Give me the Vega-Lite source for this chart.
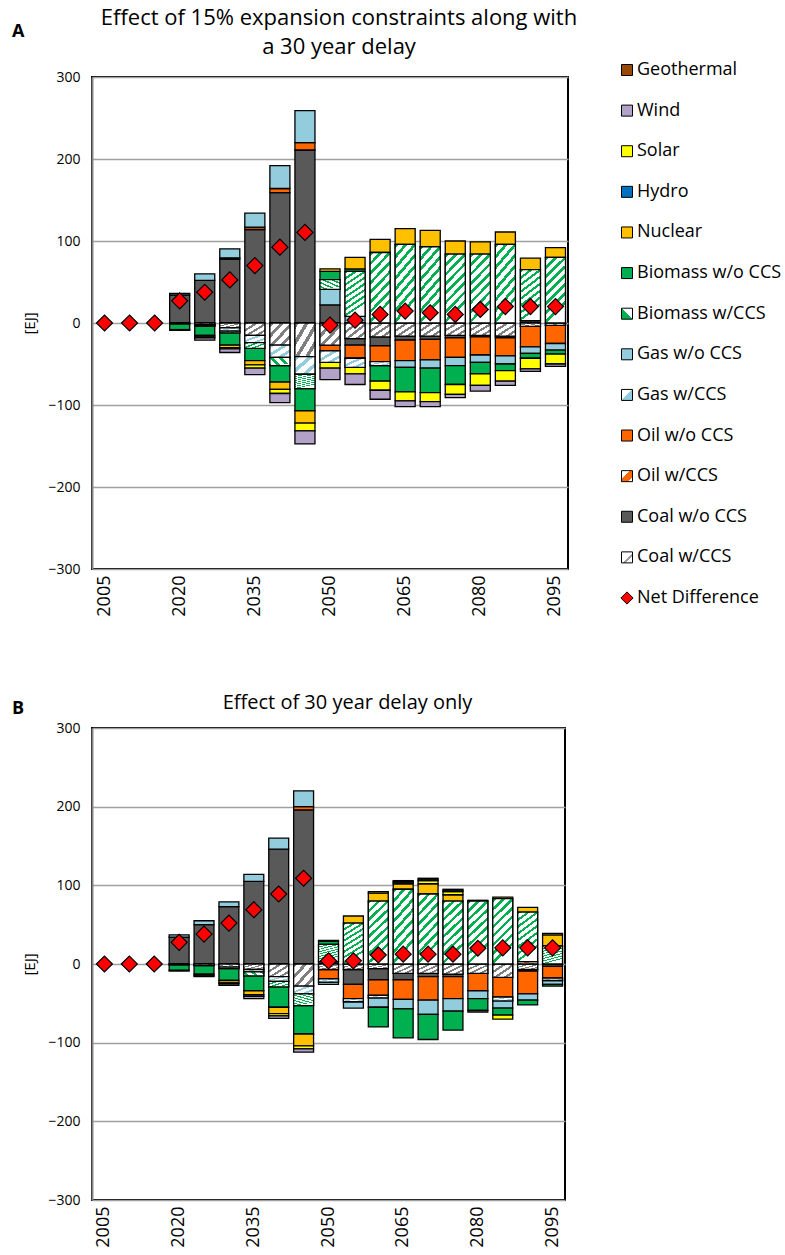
{
  "$schema": "https://vega.github.io/schema/vega-lite/v6.json",
  "padding": {"left": 11, "top": 6, "right": 0, "bottom": 0},
  "autosize": {"type": "pad"},
  "spacing": 74,
  "datasets": {
    "sources": [
      {"source": "Coal w/CCS", "rank": 1},
      {"source": "Coal w/o CCS", "rank": 2},
      {"source": "Oil w/CCS", "rank": 3},
      {"source": "Oil w/o CCS", "rank": 4},
      {"source": "Gas w/CCS", "rank": 5},
      {"source": "Gas w/o CCS", "rank": 6},
      {"source": "Biomass w/CCS", "rank": 7},
      {"source": "Biomass w/o CCS", "rank": 8},
      {"source": "Nuclear", "rank": 9},
      {"source": "Hydro", "rank": 10},
      {"source": "Solar", "rank": 11},
      {"source": "Wind", "rank": 12},
      {"source": "Geothermal", "rank": 13},
      {"source": "Net Difference", "rank": 0}
    ],
    "netA": [
      {"year": 2005, "value": 0}, {"year": 2010, "value": 0}, {"year": 2015, "value": 0},
      {"year": 2020, "value": 27}, {"year": 2025, "value": 37.5}, {"year": 2030, "value": 52.5},
      {"year": 2035, "value": 70}, {"year": 2040, "value": 92.5}, {"year": 2045, "value": 110.5},
      {"year": 2050, "value": -2.5}, {"year": 2055, "value": 3.5}, {"year": 2060, "value": 10.5},
      {"year": 2065, "value": 14.5}, {"year": 2070, "value": 12.5}, {"year": 2075, "value": 10.5},
      {"year": 2080, "value": 16.5}, {"year": 2085, "value": 20}, {"year": 2090, "value": 20},
      {"year": 2095, "value": 20}
    ],
    "netB": [
      {"year": 2005, "value": 0}, {"year": 2010, "value": 0}, {"year": 2015, "value": 0},
      {"year": 2020, "value": 27.5}, {"year": 2025, "value": 38}, {"year": 2030, "value": 52},
      {"year": 2035, "value": 69}, {"year": 2040, "value": 89}, {"year": 2045, "value": 109},
      {"year": 2050, "value": 4}, {"year": 2055, "value": 4}, {"year": 2060, "value": 11.5},
      {"year": 2065, "value": 12.5}, {"year": 2070, "value": 12.5}, {"year": 2075, "value": 12.5},
      {"year": 2080, "value": 20}, {"year": 2085, "value": 20.5}, {"year": 2090, "value": 20.5},
      {"year": 2095, "value": 20.5}
    ],
    "A": [
      {"year": 2020, "source": "Coal w/o CCS", "value": 34}, {"year": 2020, "source": "Gas w/o CCS", "value": 2},
      {"year": 2020, "source": "Coal w/CCS", "value": -1}, {"year": 2020, "source": "Biomass w/o CCS", "value": -7}, {"year": 2020, "source": "Nuclear", "value": -1},
      {"year": 2025, "source": "Coal w/o CCS", "value": 52}, {"year": 2025, "source": "Gas w/o CCS", "value": 8},
      {"year": 2025, "source": "Coal w/CCS", "value": -2}, {"year": 2025, "source": "Gas w/CCS", "value": -1}, {"year": 2025, "source": "Biomass w/CCS", "value": -1},
      {"year": 2025, "source": "Biomass w/o CCS", "value": -11}, {"year": 2025, "source": "Nuclear", "value": -2}, {"year": 2025, "source": "Solar", "value": -1}, {"year": 2025, "source": "Wind", "value": -3},
      {"year": 2030, "source": "Coal w/o CCS", "value": 78}, {"year": 2030, "source": "Oil w/o CCS", "value": 1.5}, {"year": 2030, "source": "Gas w/o CCS", "value": 11},
      {"year": 2030, "source": "Coal w/CCS", "value": -6}, {"year": 2030, "source": "Gas w/CCS", "value": -4}, {"year": 2030, "source": "Biomass w/CCS", "value": -2},
      {"year": 2030, "source": "Biomass w/o CCS", "value": -15}, {"year": 2030, "source": "Nuclear", "value": -3}, {"year": 2030, "source": "Solar", "value": -1.5}, {"year": 2030, "source": "Wind", "value": -4.5},
      {"year": 2035, "source": "Coal w/o CCS", "value": 114}, {"year": 2035, "source": "Oil w/o CCS", "value": 3}, {"year": 2035, "source": "Gas w/o CCS", "value": 17},
      {"year": 2035, "source": "Coal w/CCS", "value": -15}, {"year": 2035, "source": "Gas w/CCS", "value": -9}, {"year": 2035, "source": "Biomass w/CCS", "value": -7},
      {"year": 2035, "source": "Biomass w/o CCS", "value": -15}, {"year": 2035, "source": "Nuclear", "value": -5}, {"year": 2035, "source": "Solar", "value": -4}, {"year": 2035, "source": "Wind", "value": -8},
      {"year": 2040, "source": "Coal w/o CCS", "value": 159}, {"year": 2040, "source": "Oil w/o CCS", "value": 5}, {"year": 2040, "source": "Gas w/o CCS", "value": 28},
      {"year": 2040, "source": "Coal w/CCS", "value": -27}, {"year": 2040, "source": "Gas w/CCS", "value": -15}, {"year": 2040, "source": "Biomass w/CCS", "value": -10},
      {"year": 2040, "source": "Biomass w/o CCS", "value": -20}, {"year": 2040, "source": "Nuclear", "value": -9}, {"year": 2040, "source": "Solar", "value": -5}, {"year": 2040, "source": "Wind", "value": -11},
      {"year": 2045, "source": "Coal w/o CCS", "value": 211}, {"year": 2045, "source": "Oil w/o CCS", "value": 9}, {"year": 2045, "source": "Gas w/o CCS", "value": 39},
      {"year": 2045, "source": "Coal w/CCS", "value": -41}, {"year": 2045, "source": "Gas w/CCS", "value": -21.5}, {"year": 2045, "source": "Biomass w/CCS", "value": -17.5},
      {"year": 2045, "source": "Biomass w/o CCS", "value": -27}, {"year": 2045, "source": "Nuclear", "value": -15}, {"year": 2045, "source": "Solar", "value": -9.5}, {"year": 2045, "source": "Wind", "value": -16},
      {"year": 2050, "source": "Coal w/o CCS", "value": 22}, {"year": 2050, "source": "Gas w/o CCS", "value": 19}, {"year": 2050, "source": "Biomass w/CCS", "value": 12},
      {"year": 2050, "source": "Biomass w/o CCS", "value": 10}, {"year": 2050, "source": "Nuclear", "value": 3},
      {"year": 2050, "source": "Coal w/CCS", "value": -27}, {"year": 2050, "source": "Oil w/o CCS", "value": -7}, {"year": 2050, "source": "Gas w/CCS", "value": -14},
      {"year": 2050, "source": "Solar", "value": -7}, {"year": 2050, "source": "Wind", "value": -14},
      {"year": 2055, "source": "Gas w/o CCS", "value": 8}, {"year": 2055, "source": "Biomass w/CCS", "value": 55}, {"year": 2055, "source": "Biomass w/o CCS", "value": 3}, {"year": 2055, "source": "Nuclear", "value": 14},
      {"year": 2055, "source": "Coal w/CCS", "value": -19}, {"year": 2055, "source": "Coal w/o CCS", "value": -8}, {"year": 2055, "source": "Oil w/o CCS", "value": -16},
      {"year": 2055, "source": "Gas w/CCS", "value": -11}, {"year": 2055, "source": "Solar", "value": -8}, {"year": 2055, "source": "Wind", "value": -13},
      {"year": 2060, "source": "Biomass w/CCS", "value": 86}, {"year": 2060, "source": "Nuclear", "value": 16},
      {"year": 2060, "source": "Coal w/CCS", "value": -17}, {"year": 2060, "source": "Coal w/o CCS", "value": -11}, {"year": 2060, "source": "Oil w/o CCS", "value": -19},
      {"year": 2060, "source": "Gas w/CCS", "value": -5}, {"year": 2060, "source": "Biomass w/o CCS", "value": -19}, {"year": 2060, "source": "Solar", "value": -11}, {"year": 2060, "source": "Wind", "value": -11},
      {"year": 2065, "source": "Biomass w/CCS", "value": 96}, {"year": 2065, "source": "Nuclear", "value": 19},
      {"year": 2065, "source": "Coal w/CCS", "value": -16}, {"year": 2065, "source": "Coal w/o CCS", "value": -5}, {"year": 2065, "source": "Oil w/o CCS", "value": -25},
      {"year": 2065, "source": "Gas w/o CCS", "value": -8}, {"year": 2065, "source": "Biomass w/o CCS", "value": -30}, {"year": 2065, "source": "Solar", "value": -11}, {"year": 2065, "source": "Wind", "value": -7},
      {"year": 2070, "source": "Biomass w/CCS", "value": 93}, {"year": 2070, "source": "Nuclear", "value": 20},
      {"year": 2070, "source": "Coal w/CCS", "value": -16}, {"year": 2070, "source": "Coal w/o CCS", "value": -4}, {"year": 2070, "source": "Oil w/o CCS", "value": -25},
      {"year": 2070, "source": "Gas w/o CCS", "value": -10}, {"year": 2070, "source": "Biomass w/o CCS", "value": -30}, {"year": 2070, "source": "Solar", "value": -11}, {"year": 2070, "source": "Wind", "value": -6},
      {"year": 2075, "source": "Biomass w/CCS", "value": 84}, {"year": 2075, "source": "Nuclear", "value": 16},
      {"year": 2075, "source": "Coal w/CCS", "value": -15}, {"year": 2075, "source": "Coal w/o CCS", "value": -3}, {"year": 2075, "source": "Oil w/o CCS", "value": -24},
      {"year": 2075, "source": "Gas w/o CCS", "value": -10}, {"year": 2075, "source": "Biomass w/o CCS", "value": -23}, {"year": 2075, "source": "Solar", "value": -12}, {"year": 2075, "source": "Wind", "value": -4},
      {"year": 2080, "source": "Biomass w/CCS", "value": 84}, {"year": 2080, "source": "Nuclear", "value": 15},
      {"year": 2080, "source": "Coal w/CCS", "value": -15}, {"year": 2080, "source": "Coal w/o CCS", "value": -2}, {"year": 2080, "source": "Oil w/o CCS", "value": -22},
      {"year": 2080, "source": "Gas w/o CCS", "value": -9}, {"year": 2080, "source": "Biomass w/o CCS", "value": -14}, {"year": 2080, "source": "Solar", "value": -14}, {"year": 2080, "source": "Wind", "value": -7},
      {"year": 2085, "source": "Biomass w/CCS", "value": 96}, {"year": 2085, "source": "Nuclear", "value": 15},
      {"year": 2085, "source": "Coal w/CCS", "value": -16}, {"year": 2085, "source": "Coal w/o CCS", "value": -2}, {"year": 2085, "source": "Oil w/o CCS", "value": -22},
      {"year": 2085, "source": "Gas w/o CCS", "value": -10}, {"year": 2085, "source": "Biomass w/o CCS", "value": -8}, {"year": 2085, "source": "Solar", "value": -13}, {"year": 2085, "source": "Wind", "value": -5},
      {"year": 2090, "source": "Coal w/o CCS", "value": 3}, {"year": 2090, "source": "Biomass w/CCS", "value": 62}, {"year": 2090, "source": "Nuclear", "value": 14},
      {"year": 2090, "source": "Coal w/CCS", "value": -4}, {"year": 2090, "source": "Oil w/o CCS", "value": -25}, {"year": 2090, "source": "Gas w/o CCS", "value": -8},
      {"year": 2090, "source": "Biomass w/o CCS", "value": -6}, {"year": 2090, "source": "Solar", "value": -13}, {"year": 2090, "source": "Wind", "value": -3},
      {"year": 2095, "source": "Biomass w/CCS", "value": 80}, {"year": 2095, "source": "Nuclear", "value": 12},
      {"year": 2095, "source": "Coal w/CCS", "value": -3}, {"year": 2095, "source": "Oil w/o CCS", "value": -22}, {"year": 2095, "source": "Gas w/o CCS", "value": -8},
      {"year": 2095, "source": "Biomass w/o CCS", "value": -5}, {"year": 2095, "source": "Solar", "value": -12}, {"year": 2095, "source": "Wind", "value": -3}
    ],
    "B": [
      {"year": 2020, "source": "Coal w/o CCS", "value": 34}, {"year": 2020, "source": "Gas w/o CCS", "value": 3},
      {"year": 2020, "source": "Coal w/CCS", "value": -1}, {"year": 2020, "source": "Biomass w/o CCS", "value": -7}, {"year": 2020, "source": "Nuclear", "value": -1},
      {"year": 2025, "source": "Coal w/o CCS", "value": 50}, {"year": 2025, "source": "Gas w/o CCS", "value": 5},
      {"year": 2025, "source": "Coal w/CCS", "value": -2}, {"year": 2025, "source": "Biomass w/o CCS", "value": -11}, {"year": 2025, "source": "Nuclear", "value": -2}, {"year": 2025, "source": "Wind", "value": -1},
      {"year": 2030, "source": "Coal w/o CCS", "value": 73}, {"year": 2030, "source": "Gas w/o CCS", "value": 6},
      {"year": 2030, "source": "Coal w/CCS", "value": -4}, {"year": 2030, "source": "Gas w/CCS", "value": -2}, {"year": 2030, "source": "Biomass w/o CCS", "value": -15},
      {"year": 2030, "source": "Nuclear", "value": -3}, {"year": 2030, "source": "Solar", "value": -1}, {"year": 2030, "source": "Wind", "value": -2},
      {"year": 2035, "source": "Coal w/o CCS", "value": 105}, {"year": 2035, "source": "Gas w/o CCS", "value": 9},
      {"year": 2035, "source": "Coal w/CCS", "value": -7}, {"year": 2035, "source": "Gas w/CCS", "value": -3}, {"year": 2035, "source": "Biomass w/CCS", "value": -5},
      {"year": 2035, "source": "Biomass w/o CCS", "value": -19}, {"year": 2035, "source": "Nuclear", "value": -5}, {"year": 2035, "source": "Solar", "value": -2}, {"year": 2035, "source": "Wind", "value": -3},
      {"year": 2040, "source": "Coal w/o CCS", "value": 146}, {"year": 2040, "source": "Gas w/o CCS", "value": 14},
      {"year": 2040, "source": "Coal w/CCS", "value": -16}, {"year": 2040, "source": "Gas w/CCS", "value": -6}, {"year": 2040, "source": "Biomass w/CCS", "value": -7},
      {"year": 2040, "source": "Biomass w/o CCS", "value": -26}, {"year": 2040, "source": "Nuclear", "value": -8}, {"year": 2040, "source": "Solar", "value": -3}, {"year": 2040, "source": "Wind", "value": -3},
      {"year": 2045, "source": "Coal w/o CCS", "value": 196}, {"year": 2045, "source": "Oil w/o CCS", "value": 4}, {"year": 2045, "source": "Gas w/o CCS", "value": 20},
      {"year": 2045, "source": "Coal w/CCS", "value": -28}, {"year": 2045, "source": "Gas w/CCS", "value": -10}, {"year": 2045, "source": "Biomass w/CCS", "value": -15},
      {"year": 2045, "source": "Biomass w/o CCS", "value": -36}, {"year": 2045, "source": "Nuclear", "value": -15}, {"year": 2045, "source": "Solar", "value": -4}, {"year": 2045, "source": "Wind", "value": -4},
      {"year": 2050, "source": "Coal w/o CCS", "value": 3}, {"year": 2050, "source": "Biomass w/CCS", "value": 22}, {"year": 2050, "source": "Biomass w/o CCS", "value": 4}, {"year": 2050, "source": "Nuclear", "value": 1},
      {"year": 2050, "source": "Coal w/CCS", "value": -7}, {"year": 2050, "source": "Oil w/o CCS", "value": -12}, {"year": 2050, "source": "Gas w/CCS", "value": -4}, {"year": 2050, "source": "Gas w/o CCS", "value": -3},
      {"year": 2055, "source": "Biomass w/CCS", "value": 52}, {"year": 2055, "source": "Nuclear", "value": 9},
      {"year": 2055, "source": "Coal w/CCS", "value": -7}, {"year": 2055, "source": "Coal w/o CCS", "value": -19}, {"year": 2055, "source": "Oil w/o CCS", "value": -18},
      {"year": 2055, "source": "Gas w/CCS", "value": -4}, {"year": 2055, "source": "Gas w/o CCS", "value": -8},
      {"year": 2060, "source": "Biomass w/CCS", "value": 80}, {"year": 2060, "source": "Nuclear", "value": 10}, {"year": 2060, "source": "Solar", "value": 2},
      {"year": 2060, "source": "Coal w/CCS", "value": -6}, {"year": 2060, "source": "Coal w/o CCS", "value": -14}, {"year": 2060, "source": "Oil w/o CCS", "value": -20},
      {"year": 2060, "source": "Gas w/CCS", "value": -3}, {"year": 2060, "source": "Gas w/o CCS", "value": -12}, {"year": 2060, "source": "Biomass w/o CCS", "value": -25},
      {"year": 2065, "source": "Biomass w/CCS", "value": 95}, {"year": 2065, "source": "Nuclear", "value": 7}, {"year": 2065, "source": "Solar", "value": 2}, {"year": 2065, "source": "Wind", "value": 1}, {"year": 2065, "source": "Geothermal", "value": 1},
      {"year": 2065, "source": "Coal w/CCS", "value": -12}, {"year": 2065, "source": "Coal w/o CCS", "value": -8}, {"year": 2065, "source": "Oil w/o CCS", "value": -25},
      {"year": 2065, "source": "Gas w/o CCS", "value": -12}, {"year": 2065, "source": "Biomass w/o CCS", "value": -37},
      {"year": 2070, "source": "Biomass w/CCS", "value": 89}, {"year": 2070, "source": "Nuclear", "value": 13}, {"year": 2070, "source": "Solar", "value": 4}, {"year": 2070, "source": "Wind", "value": 2}, {"year": 2070, "source": "Geothermal", "value": 1},
      {"year": 2070, "source": "Coal w/CCS", "value": -12}, {"year": 2070, "source": "Coal w/o CCS", "value": -4}, {"year": 2070, "source": "Oil w/o CCS", "value": -30},
      {"year": 2070, "source": "Gas w/o CCS", "value": -18}, {"year": 2070, "source": "Biomass w/o CCS", "value": -32},
      {"year": 2075, "source": "Biomass w/CCS", "value": 80}, {"year": 2075, "source": "Nuclear", "value": 8}, {"year": 2075, "source": "Solar", "value": 4}, {"year": 2075, "source": "Wind", "value": 2}, {"year": 2075, "source": "Geothermal", "value": 1},
      {"year": 2075, "source": "Coal w/CCS", "value": -13}, {"year": 2075, "source": "Coal w/o CCS", "value": -3}, {"year": 2075, "source": "Oil w/o CCS", "value": -28},
      {"year": 2075, "source": "Gas w/o CCS", "value": -16}, {"year": 2075, "source": "Biomass w/o CCS", "value": -24},
      {"year": 2080, "source": "Biomass w/CCS", "value": 80}, {"year": 2080, "source": "Nuclear", "value": 1},
      {"year": 2080, "source": "Coal w/CCS", "value": -12}, {"year": 2080, "source": "Oil w/o CCS", "value": -22}, {"year": 2080, "source": "Gas w/o CCS", "value": -10},
      {"year": 2080, "source": "Biomass w/o CCS", "value": -15}, {"year": 2080, "source": "Wind", "value": -2},
      {"year": 2085, "source": "Biomass w/CCS", "value": 83}, {"year": 2085, "source": "Nuclear", "value": 2},
      {"year": 2085, "source": "Coal w/CCS", "value": -17}, {"year": 2085, "source": "Oil w/o CCS", "value": -25}, {"year": 2085, "source": "Gas w/CCS", "value": -5},
      {"year": 2085, "source": "Gas w/o CCS", "value": -9}, {"year": 2085, "source": "Biomass w/o CCS", "value": -9}, {"year": 2085, "source": "Solar", "value": -5},
      {"year": 2090, "source": "Oil w/CCS", "value": 3}, {"year": 2090, "source": "Biomass w/CCS", "value": 63}, {"year": 2090, "source": "Nuclear", "value": 6},
      {"year": 2090, "source": "Coal w/CCS", "value": -7}, {"year": 2090, "source": "Coal w/o CCS", "value": -2}, {"year": 2090, "source": "Oil w/o CCS", "value": -29},
      {"year": 2090, "source": "Gas w/o CCS", "value": -8}, {"year": 2090, "source": "Biomass w/o CCS", "value": -6},
      {"year": 2095, "source": "Biomass w/CCS", "value": 23}, {"year": 2095, "source": "Nuclear", "value": 14}, {"year": 2095, "source": "Solar", "value": 2},
      {"year": 2095, "source": "Coal w/o CCS", "value": -3}, {"year": 2095, "source": "Oil w/o CCS", "value": -15}, {"year": 2095, "source": "Gas w/CCS", "value": -3},
      {"year": 2095, "source": "Gas w/o CCS", "value": -5}, {"year": 2095, "source": "Biomass w/o CCS", "value": -2}
    ]
  },
  "vconcat": [
    {
      "title": {"text": "A", "anchor": "start", "fontWeight": "bold", "fontSize": 18, "font": "Open Sans", "offset": -35, "dx": -10},
      "spacing": 39,
      "hconcat": [
        {
          "width": 476,
          "height": 492,
          "title": {"text": ["Effect of 15% expansion constraints along with", "a 30 year delay"], "fontSize": 22, "lineHeight": 29, "offset": 11, "dx": 9},
          "encoding": {
            "x": {"field": "year", "type": "ordinal", "scale": {"paddingInner": 0.2, "paddingOuter": 0.1},
                  "axis": {"labelExpr": "(datum.value - 2005) % 15 == 0 ? datum.label : ''"}}
          },
          "layer": [
            {
              "data": {"name": "A"},
              "transform": [
                {"lookup": "source", "from": {"data": {"name": "sources"}, "key": "source", "fields": ["rank"]}},
                {"stack": "value", "groupby": ["year"], "sort": [{"field": "rank", "order": "ascending"}], "as": ["v0", "v1"]}
              ],
              "mark": {"type": "bar", "stroke": "#000", "strokeWidth": 1.3},
              "encoding": {
                "y": {"field": "v0", "type": "quantitative", "title": "[EJ]", "scale": {"domain": [-300, 300]}, "axis": {"values": [-300, -200, -100, 0, 100, 200, 300]}},
                "y2": {"field": "v1"},
                "fill": {"field": "source", "type": "nominal", "legend": null,
                  "scale": {"domain": ["Coal w/CCS", "Coal w/o CCS", "Oil w/CCS", "Oil w/o CCS", "Gas w/CCS", "Gas w/o CCS", "Biomass w/CCS", "Biomass w/o CCS", "Nuclear", "Hydro", "Solar", "Wind", "Geothermal"],
                            "range": ["#FFFFFF", "#595959", "#FFFFFF", "#FF6600", "#FFFFFF", "#93CDDD", "#FFFFFF", "#00B050", "#FFC000", "#0070C0", "#FFFF00", "#B3A2C7", "#984807"]}}
              }
            },
            {
              "data": {"name": "A"},
              "transform": [
                {"lookup": "source", "from": {"data": {"name": "sources"}, "key": "source", "fields": ["rank"]}},
                {"stack": "value", "groupby": ["year"], "sort": [{"field": "rank", "order": "ascending"}], "as": ["v0", "v1"]},
                {"filter": "datum.source === 'Coal w/CCS'"}
              ],
              "mark": {"type": "bar", "stroke": "#000", "strokeWidth": 1.3,
                "fill": {"gradient": "linear", "x1": 0, "y1": 0, "x2": 1, "y2": 1, "stops": [
                  {"offset": 0, "color": "#7F7F7F"}, {"offset": 0.1, "color": "#7F7F7F"}, {"offset": 0.1, "color": "#FFFFFF"}, {"offset": 0.25, "color": "#FFFFFF"},
                  {"offset": 0.25, "color": "#7F7F7F"}, {"offset": 0.35, "color": "#7F7F7F"}, {"offset": 0.35, "color": "#FFFFFF"}, {"offset": 0.5, "color": "#FFFFFF"},
                  {"offset": 0.5, "color": "#7F7F7F"}, {"offset": 0.6, "color": "#7F7F7F"}, {"offset": 0.6, "color": "#FFFFFF"}, {"offset": 0.75, "color": "#FFFFFF"},
                  {"offset": 0.75, "color": "#7F7F7F"}, {"offset": 0.85, "color": "#7F7F7F"}, {"offset": 0.85, "color": "#FFFFFF"}, {"offset": 1, "color": "#FFFFFF"}]}},
              "encoding": {"y": {"field": "v0", "type": "quantitative", "title": "[EJ]"}, "y2": {"field": "v1"}}
            },
            {
              "data": {"name": "A"},
              "transform": [
                {"lookup": "source", "from": {"data": {"name": "sources"}, "key": "source", "fields": ["rank"]}},
                {"stack": "value", "groupby": ["year"], "sort": [{"field": "rank", "order": "ascending"}], "as": ["v0", "v1"]},
                {"filter": "datum.source === 'Gas w/CCS'"}
              ],
              "mark": {"type": "bar", "stroke": "#000", "strokeWidth": 1.3,
                "fill": {"gradient": "linear", "x1": 0, "y1": 0, "x2": 1, "y2": 1, "stops": [
                  {"offset": 0, "color": "#93CDDD"}, {"offset": 0.13, "color": "#93CDDD"}, {"offset": 0.13, "color": "#FFFFFF"}, {"offset": 0.333, "color": "#FFFFFF"},
                  {"offset": 0.333, "color": "#93CDDD"}, {"offset": 0.467, "color": "#93CDDD"}, {"offset": 0.467, "color": "#FFFFFF"}, {"offset": 0.667, "color": "#FFFFFF"},
                  {"offset": 0.667, "color": "#93CDDD"}, {"offset": 0.8, "color": "#93CDDD"}, {"offset": 0.8, "color": "#FFFFFF"}, {"offset": 1, "color": "#FFFFFF"}]}},
              "encoding": {"y": {"field": "v0", "type": "quantitative", "title": "[EJ]"}, "y2": {"field": "v1"}}
            },
            {
              "data": {"name": "A"},
              "transform": [
                {"lookup": "source", "from": {"data": {"name": "sources"}, "key": "source", "fields": ["rank"]}},
                {"stack": "value", "groupby": ["year"], "sort": [{"field": "rank", "order": "ascending"}], "as": ["v0", "v1"]},
                {"filter": "datum.source === 'Biomass w/CCS'"}
              ],
              "mark": {"type": "bar", "stroke": "#000", "strokeWidth": 1.3,
                "fill": {"gradient": "linear", "x1": 0, "y1": 0, "x2": 0.3, "y2": 1, "stops": [
                  {"offset": 0, "color": "#00B050"}, {"offset": 0.05, "color": "#00B050"}, {"offset": 0.05, "color": "#FFFFFF"}, {"offset": 0.125, "color": "#FFFFFF"},
                  {"offset": 0.125, "color": "#00B050"}, {"offset": 0.175, "color": "#00B050"}, {"offset": 0.175, "color": "#FFFFFF"}, {"offset": 0.25, "color": "#FFFFFF"},
                  {"offset": 0.25, "color": "#00B050"}, {"offset": 0.3, "color": "#00B050"}, {"offset": 0.3, "color": "#FFFFFF"}, {"offset": 0.375, "color": "#FFFFFF"},
                  {"offset": 0.375, "color": "#00B050"}, {"offset": 0.425, "color": "#00B050"}, {"offset": 0.425, "color": "#FFFFFF"}, {"offset": 0.5, "color": "#FFFFFF"},
                  {"offset": 0.5, "color": "#00B050"}, {"offset": 0.55, "color": "#00B050"}, {"offset": 0.55, "color": "#FFFFFF"}, {"offset": 0.625, "color": "#FFFFFF"},
                  {"offset": 0.625, "color": "#00B050"}, {"offset": 0.675, "color": "#00B050"}, {"offset": 0.675, "color": "#FFFFFF"}, {"offset": 0.75, "color": "#FFFFFF"},
                  {"offset": 0.75, "color": "#00B050"}, {"offset": 0.8, "color": "#00B050"}, {"offset": 0.8, "color": "#FFFFFF"}, {"offset": 0.875, "color": "#FFFFFF"},
                  {"offset": 0.875, "color": "#00B050"}, {"offset": 0.925, "color": "#00B050"}, {"offset": 0.925, "color": "#FFFFFF"}, {"offset": 1, "color": "#FFFFFF"}]}},
              "encoding": {"y": {"field": "v0", "type": "quantitative", "title": "[EJ]"}, "y2": {"field": "v1"}}
            },
            {
              "data": {"name": "netA"},
              "mark": {"type": "point", "shape": "diamond", "filled": true, "fill": "#FF0000", "stroke": "#000", "strokeWidth": 1.2, "size": 256, "opacity": 1},
              "encoding": {"y": {"field": "value", "type": "quantitative", "title": "[EJ]"}}
            }
          ]
        },
        {
          "width": 12,
          "height": 528,
          "view": {"stroke": null},
          "data": {"name": "sources"},
          "encoding": {
            "y": {"field": "source", "type": "nominal", "axis": null,
              "scale": {"type": "point", "padding": 0, "domain": ["Geothermal", "Wind", "Solar", "Hydro", "Nuclear", "Biomass w/o CCS", "Biomass w/CCS", "Gas w/o CCS", "Gas w/CCS", "Oil w/o CCS", "Oil w/CCS", "Coal w/o CCS", "Coal w/CCS", "Net Difference"]}}
          },
          "layer": [
            {
              "transform": [{"filter": "indexof(['Biomass w/CCS','Gas w/CCS','Oil w/CCS','Coal w/CCS','Net Difference'], datum.source) < 0"}],
              "mark": {"type": "point", "shape": "square", "filled": true, "size": 121, "stroke": "#000", "strokeWidth": 1, "opacity": 1, "yOffset": -7},
              "encoding": {"fill": {"field": "source", "type": "nominal", "legend": null,
                  "scale": {"domain": ["Coal w/CCS", "Coal w/o CCS", "Oil w/CCS", "Oil w/o CCS", "Gas w/CCS", "Gas w/o CCS", "Biomass w/CCS", "Biomass w/o CCS", "Nuclear", "Hydro", "Solar", "Wind", "Geothermal"],
                            "range": ["#FFFFFF", "#595959", "#FFFFFF", "#FF6600", "#FFFFFF", "#93CDDD", "#FFFFFF", "#00B050", "#FFC000", "#0070C0", "#FFFF00", "#B3A2C7", "#984807"]}}}
            },
            {
              "transform": [{"filter": "datum.source === 'Biomass w/CCS'"}],
              "mark": {"type": "point", "shape": "square", "filled": true, "size": 121, "stroke": "#000", "strokeWidth": 1, "opacity": 1, "yOffset": -7,
                "fill": {"gradient": "linear", "x1": 0, "y1": 1, "x2": 1, "y2": 0, "stops": [{"offset": 0, "color": "#00B050"}, {"offset": 0.5, "color": "#00B050"}, {"offset": 0.5, "color": "#FFFFFF"}, {"offset": 1, "color": "#FFFFFF"}]}}
            },
            {
              "transform": [{"filter": "datum.source === 'Gas w/CCS'"}],
              "mark": {"type": "point", "shape": "square", "filled": true, "size": 121, "stroke": "#000", "strokeWidth": 1, "opacity": 1, "yOffset": -7,
                "fill": {"gradient": "linear", "x1": 0, "y1": 0, "x2": 1, "y2": 1, "stops": [{"offset": 0, "color": "#FFFFFF"}, {"offset": 0.5, "color": "#FFFFFF"}, {"offset": 0.5, "color": "#93CDDD"}, {"offset": 1, "color": "#93CDDD"}]}}
            },
            {
              "transform": [{"filter": "datum.source === 'Oil w/CCS'"}],
              "mark": {"type": "point", "shape": "square", "filled": true, "size": 121, "stroke": "#000", "strokeWidth": 1, "opacity": 1, "yOffset": -7,
                "fill": {"gradient": "linear", "x1": 0, "y1": 0, "x2": 1, "y2": 1, "stops": [{"offset": 0, "color": "#FFFFFF"}, {"offset": 0.4, "color": "#FFFFFF"}, {"offset": 0.4, "color": "#FF6600"}, {"offset": 0.8, "color": "#FF6600"}, {"offset": 0.8, "color": "#FFFFFF"}, {"offset": 1, "color": "#FFFFFF"}]}}
            },
            {
              "transform": [{"filter": "datum.source === 'Coal w/CCS'"}],
              "mark": {"type": "point", "shape": "square", "filled": true, "size": 121, "stroke": "#000", "strokeWidth": 1, "opacity": 1, "yOffset": -7,
                "fill": {"gradient": "linear", "x1": 0, "y1": 0, "x2": 1, "y2": 1, "stops": [{"offset": 0, "color": "#FFFFFF"}, {"offset": 0.55, "color": "#FFFFFF"}, {"offset": 0.55, "color": "#A0A0A0"}, {"offset": 0.7, "color": "#A0A0A0"}, {"offset": 0.7, "color": "#FFFFFF"}, {"offset": 1, "color": "#FFFFFF"}]}}
            },
            {
              "transform": [{"filter": "datum.source === 'Net Difference'"}],
              "mark": {"type": "point", "shape": "diamond", "filled": true, "fill": "#FF0000", "stroke": "#000", "strokeWidth": 1, "size": 150, "opacity": 1, "yOffset": -7}
            },
            {
              "mark": {"type": "text", "align": "left", "baseline": "middle", "dx": 10, "dy": -7, "fontSize": 18, "font": "Open Sans", "color": "#000"},
              "encoding": {"text": {"field": "source"}}
            }
          ]
        }
      ]
    },
    {
      "title": {"text": "B", "anchor": "start", "fontWeight": "bold", "fontSize": 18, "font": "Open Sans", "offset": -26, "dx": -10},
      "hconcat": [
        {
          "width": 473,
          "height": 472,
          "title": {"text": "Effect of 30 year delay only", "fontSize": 20, "offset": 8, "dx": 19},
          "encoding": {
            "x": {"field": "year", "type": "ordinal", "scale": {"paddingInner": 0.2, "paddingOuter": 0.1},
                  "axis": {"labelExpr": "(datum.value - 2005) % 15 == 0 ? datum.label : ''"}}
          },
          "layer": [
            {
              "data": {"name": "B"},
              "transform": [
                {"lookup": "source", "from": {"data": {"name": "sources"}, "key": "source", "fields": ["rank"]}},
                {"stack": "value", "groupby": ["year"], "sort": [{"field": "rank", "order": "ascending"}], "as": ["v0", "v1"]}
              ],
              "mark": {"type": "bar", "stroke": "#000", "strokeWidth": 1.3},
              "encoding": {
                "y": {"field": "v0", "type": "quantitative", "title": "[EJ]", "scale": {"domain": [-300, 300]}, "axis": {"values": [-300, -200, -100, 0, 100, 200, 300]}},
                "y2": {"field": "v1"},
                "fill": {"field": "source", "type": "nominal", "legend": null,
                  "scale": {"domain": ["Coal w/CCS", "Coal w/o CCS", "Oil w/CCS", "Oil w/o CCS", "Gas w/CCS", "Gas w/o CCS", "Biomass w/CCS", "Biomass w/o CCS", "Nuclear", "Hydro", "Solar", "Wind", "Geothermal"],
                            "range": ["#FFFFFF", "#595959", "#FFFFFF", "#FF6600", "#FFFFFF", "#93CDDD", "#FFFFFF", "#00B050", "#FFC000", "#0070C0", "#FFFF00", "#B3A2C7", "#984807"]}}
              }
            },
            {
              "data": {"name": "B"},
              "transform": [
                {"lookup": "source", "from": {"data": {"name": "sources"}, "key": "source", "fields": ["rank"]}},
                {"stack": "value", "groupby": ["year"], "sort": [{"field": "rank", "order": "ascending"}], "as": ["v0", "v1"]},
                {"filter": "datum.source === 'Coal w/CCS'"}
              ],
              "mark": {"type": "bar", "stroke": "#000", "strokeWidth": 1.3,
                "fill": {"gradient": "linear", "x1": 0, "y1": 0, "x2": 1, "y2": 1, "stops": [
                  {"offset": 0, "color": "#7F7F7F"}, {"offset": 0.1, "color": "#7F7F7F"}, {"offset": 0.1, "color": "#FFFFFF"}, {"offset": 0.25, "color": "#FFFFFF"},
                  {"offset": 0.25, "color": "#7F7F7F"}, {"offset": 0.35, "color": "#7F7F7F"}, {"offset": 0.35, "color": "#FFFFFF"}, {"offset": 0.5, "color": "#FFFFFF"},
                  {"offset": 0.5, "color": "#7F7F7F"}, {"offset": 0.6, "color": "#7F7F7F"}, {"offset": 0.6, "color": "#FFFFFF"}, {"offset": 0.75, "color": "#FFFFFF"},
                  {"offset": 0.75, "color": "#7F7F7F"}, {"offset": 0.85, "color": "#7F7F7F"}, {"offset": 0.85, "color": "#FFFFFF"}, {"offset": 1, "color": "#FFFFFF"}]}},
              "encoding": {"y": {"field": "v0", "type": "quantitative", "title": "[EJ]"}, "y2": {"field": "v1"}}
            },
            {
              "data": {"name": "B"},
              "transform": [
                {"lookup": "source", "from": {"data": {"name": "sources"}, "key": "source", "fields": ["rank"]}},
                {"stack": "value", "groupby": ["year"], "sort": [{"field": "rank", "order": "ascending"}], "as": ["v0", "v1"]},
                {"filter": "datum.source === 'Gas w/CCS'"}
              ],
              "mark": {"type": "bar", "stroke": "#000", "strokeWidth": 1.3,
                "fill": {"gradient": "linear", "x1": 0, "y1": 0, "x2": 1, "y2": 1, "stops": [
                  {"offset": 0, "color": "#93CDDD"}, {"offset": 0.13, "color": "#93CDDD"}, {"offset": 0.13, "color": "#FFFFFF"}, {"offset": 0.333, "color": "#FFFFFF"},
                  {"offset": 0.333, "color": "#93CDDD"}, {"offset": 0.467, "color": "#93CDDD"}, {"offset": 0.467, "color": "#FFFFFF"}, {"offset": 0.667, "color": "#FFFFFF"},
                  {"offset": 0.667, "color": "#93CDDD"}, {"offset": 0.8, "color": "#93CDDD"}, {"offset": 0.8, "color": "#FFFFFF"}, {"offset": 1, "color": "#FFFFFF"}]}},
              "encoding": {"y": {"field": "v0", "type": "quantitative", "title": "[EJ]"}, "y2": {"field": "v1"}}
            },
            {
              "data": {"name": "B"},
              "transform": [
                {"lookup": "source", "from": {"data": {"name": "sources"}, "key": "source", "fields": ["rank"]}},
                {"stack": "value", "groupby": ["year"], "sort": [{"field": "rank", "order": "ascending"}], "as": ["v0", "v1"]},
                {"filter": "datum.source === 'Oil w/CCS'"}
              ],
              "mark": {"type": "bar", "stroke": "#000", "strokeWidth": 1.3,
                "fill": {"gradient": "linear", "x1": 0, "y1": 0, "x2": 1, "y2": 1, "stops": [
                  {"offset": 0, "color": "#FF6600"}, {"offset": 0.13, "color": "#FF6600"}, {"offset": 0.13, "color": "#FFFFFF"}, {"offset": 0.333, "color": "#FFFFFF"},
                  {"offset": 0.333, "color": "#FF6600"}, {"offset": 0.467, "color": "#FF6600"}, {"offset": 0.467, "color": "#FFFFFF"}, {"offset": 0.667, "color": "#FFFFFF"},
                  {"offset": 0.667, "color": "#FF6600"}, {"offset": 0.8, "color": "#FF6600"}, {"offset": 0.8, "color": "#FFFFFF"}, {"offset": 1, "color": "#FFFFFF"}]}},
              "encoding": {"y": {"field": "v0", "type": "quantitative", "title": "[EJ]"}, "y2": {"field": "v1"}}
            },
            {
              "data": {"name": "B"},
              "transform": [
                {"lookup": "source", "from": {"data": {"name": "sources"}, "key": "source", "fields": ["rank"]}},
                {"stack": "value", "groupby": ["year"], "sort": [{"field": "rank", "order": "ascending"}], "as": ["v0", "v1"]},
                {"filter": "datum.source === 'Biomass w/CCS'"}
              ],
              "mark": {"type": "bar", "stroke": "#000", "strokeWidth": 1.3,
                "fill": {"gradient": "linear", "x1": 0, "y1": 0, "x2": 0.3, "y2": 1, "stops": [
                  {"offset": 0, "color": "#00B050"}, {"offset": 0.05, "color": "#00B050"}, {"offset": 0.05, "color": "#FFFFFF"}, {"offset": 0.125, "color": "#FFFFFF"},
                  {"offset": 0.125, "color": "#00B050"}, {"offset": 0.175, "color": "#00B050"}, {"offset": 0.175, "color": "#FFFFFF"}, {"offset": 0.25, "color": "#FFFFFF"},
                  {"offset": 0.25, "color": "#00B050"}, {"offset": 0.3, "color": "#00B050"}, {"offset": 0.3, "color": "#FFFFFF"}, {"offset": 0.375, "color": "#FFFFFF"},
                  {"offset": 0.375, "color": "#00B050"}, {"offset": 0.425, "color": "#00B050"}, {"offset": 0.425, "color": "#FFFFFF"}, {"offset": 0.5, "color": "#FFFFFF"},
                  {"offset": 0.5, "color": "#00B050"}, {"offset": 0.55, "color": "#00B050"}, {"offset": 0.55, "color": "#FFFFFF"}, {"offset": 0.625, "color": "#FFFFFF"},
                  {"offset": 0.625, "color": "#00B050"}, {"offset": 0.675, "color": "#00B050"}, {"offset": 0.675, "color": "#FFFFFF"}, {"offset": 0.75, "color": "#FFFFFF"},
                  {"offset": 0.75, "color": "#00B050"}, {"offset": 0.8, "color": "#00B050"}, {"offset": 0.8, "color": "#FFFFFF"}, {"offset": 0.875, "color": "#FFFFFF"},
                  {"offset": 0.875, "color": "#00B050"}, {"offset": 0.925, "color": "#00B050"}, {"offset": 0.925, "color": "#FFFFFF"}, {"offset": 1, "color": "#FFFFFF"}]}},
              "encoding": {"y": {"field": "v0", "type": "quantitative", "title": "[EJ]"}, "y2": {"field": "v1"}}
            },
            {
              "data": {"name": "netB"},
              "mark": {"type": "point", "shape": "diamond", "filled": true, "fill": "#FF0000", "stroke": "#000", "strokeWidth": 1.2, "size": 256, "opacity": 1},
              "encoding": {"y": {"field": "value", "type": "quantitative", "title": "[EJ]"}}
            }
          ]
        }
      ]
    }
  ],
  "config": {
    "font": "Open Sans",
    "view": {"stroke": "#000", "strokeWidth": 2},
    "title": {"font": "Open Sans", "fontWeight": "normal", "fontSize": 21, "color": "#000"},
    "axis": {"labelFont": "Open Sans", "titleFont": "Open Sans", "labelColor": "#000", "titleColor": "#000"},
    "axisY": {"grid": true, "gridColor": "#A0A0A0", "gridWidth": 1.5, "domainColor": "#868686", "domainWidth": 2, "ticks": false,
              "labelFontSize": 14, "labelPadding": 12, "titleFontSize": 15, "titleFontWeight": "normal", "titlePadding": 10},
    "axisX": {"grid": false, "domain": false, "ticks": false, "labelAngle": -90, "labelFontSize": 18, "labelPadding": 6, "title": null}
  }
}
